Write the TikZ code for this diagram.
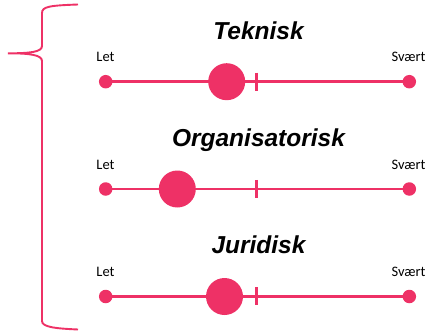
\documentclass[tikz,border=0pt]{standalone}
\usepackage{fontspec}
\setmainfont{Liberation Sans}
\newfontfamily\labelfont{Carlito}
\definecolor{scalepink}{HTML}{EE3166}
\tikzset{
  scaleline/.style={draw=scalepink, line width=2.6pt},
  enddot/.style={circle, fill=scalepink, inner sep=0pt, minimum size=13.5pt},
  bigdot/.style={circle, fill=scalepink, inner sep=0pt, minimum size=37pt},
  tickmark/.style={draw=scalepink, line width=2.4pt},
  titletext/.style={font=\fontsize{24.5}{26}\selectfont\bfseries\itshape, anchor=base},
  endlabel/.style={font=\labelfont\fontsize{14.5}{16}\selectfont, anchor=base},
  bracestyle/.style={draw=scalepink, line width=1.9pt}
}
\begin{document}
\begin{tikzpicture}[x=1pt, y=-1pt]
\useasboundingbox (0,0) rectangle (436,332);

% curly brace on the left
\draw[bracestyle] (78,4.5) .. controls (50,5.5) and (42,6.5) .. (42,13)
  -- (42,46) .. controls (42,52) and (30,53.3) .. (8,53.3)
  .. controls (30,53.3) and (42,55) .. (42,61)
  -- (42,321) .. controls (42,327) and (55,328.5) .. (78,329.5);

% three rating scales
\foreach \name/\title/\yy/\pos in {tek/Teknisk/0/226.7, org/Organisatorisk/107.3/177.3, jur/Juridisk/214.8/224.5}{
  \node[titletext] (\name-title) at (258.5,{39+\yy}) {\title};
  \node[endlabel] (\name-let) at (105.5,{61.7+\yy}) {Let};
  \node[endlabel] (\name-sv) at (408.5,{61.7+\yy}) {Svært};
  \node[enddot] (\name-l) at (105.7,{81.7+\yy}) {};
  \node[enddot] (\name-r) at (409.3,{81.7+\yy}) {};
  \coordinate (\name-t1) at (256.5,{72.5+\yy});
  \coordinate (\name-t2) at (256.5,{90.5+\yy});
  \draw[scaleline] (\name-l.center) -- (\name-r.center);
  \draw[tickmark] (\name-t1) -- (\name-t2);
  \node[bigdot] (\name-m) at (\pos,{81.7+\yy}) {};
}
\end{tikzpicture}
\end{document}
